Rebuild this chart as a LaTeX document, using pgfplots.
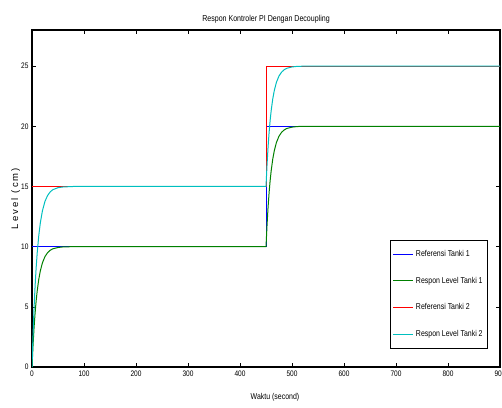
\documentclass[border=0pt]{standalone}
\usepackage{fontspec}
\setmainfont{Liberation Sans}[FakeStretch=0.82]
\newfontfamily\spacedfont{Liberation Sans}[LetterSpace=22]
\usepackage{pgfplots}
\pgfplotsset{compat=1.18}

\definecolor{mblue}{rgb}{0,0,1}
\definecolor{mgreen}{rgb}{0,0.5,0}
\definecolor{mred}{rgb}{1,0,0}
\definecolor{mcyan}{rgb}{0,0.75,0.75}

\begin{document}
\begin{tikzpicture}[font=\fontsize{8.6}{9}\selectfont]
\begin{axis}[
    scale only axis,
    width=468pt, height=337pt,
    xmin=0, xmax=900, ymin=0, ymax=28,
    xtick={0,100,...,900}, ytick={0,5,...,25},
    tick align=inside,
    major tick length=4pt,
    axis line style={line width=1.2pt},
    tick style={black, line width=0.6pt},
    /pgf/number format/assume math mode=true,
    ticklabel style={font=\fontsize{8}{8}\selectfont},
    title={Respon Kontroler PI Dengan Decoupling},
    title style={yshift=-3pt},
    xlabel={Waktu (second)},
    ylabel={\fontsize{9.5}{10}\spacedfont Level (cm)},
    ylabel style={at={(axis description cs:-0.035,0.5)}, anchor=center},
    xlabel style={yshift=-10pt, xshift=9pt, font=\fontsize{8.5}{9}\selectfont},
    legend style={at={(0.974,0.056)}, anchor=south east,
        font=\fontsize{8.5}{9}\selectfont,
        row sep=15pt, inner xsep=3pt, inner ysep=8pt},
    legend cell align=left,
    legend image code/.code={\draw[#1, line width=1pt] (0pt,0pt) -- (20pt,0pt);},
    every axis plot/.append style={line width=1pt},
]
\addplot[mblue] coordinates {(0,10) (450,10) (450,20) (900,20)};
\addlegendentry{Referensi Tanki 1}
\addplot[mgreen] coordinates {
(0,0) (2,1.81) (4,3.30) (6,4.51) (8,5.51) (10,6.32) (13,7.28) (16,7.98)
(20,8.65) (25,9.18) (30,9.50) (35,9.70) (40,9.82) (50,9.93) (60,9.98) (80,10)
(450,10) (452,11.81) (454,13.30) (456,14.51) (458,15.51) (460,16.32) (463,17.28)
(466,17.98) (470,18.65) (475,19.18) (480,19.50) (485,19.70) (490,19.82)
(500,19.93) (510,19.98) (530,20) (900,20)};
\addlegendentry{Respon Level Tanki 1}
\addplot[mred] coordinates {(0,15) (450,15) (450,25) (900,25)};
\addlegendentry{Referensi Tanki 2}
\addplot[mcyan] coordinates {
(0,0) (2,2.72) (4,4.95) (6,6.77) (8,8.26) (10,9.48) (13,10.91) (16,11.97)
(20,12.97) (25,13.77) (30,14.25) (35,14.55) (40,14.73) (50,14.90) (60,14.96) (80,15)
(450,15) (452,16.81) (454,18.30) (456,19.51) (458,20.51) (460,21.32) (463,22.28)
(466,22.98) (470,23.65) (475,24.18) (480,24.50) (485,24.70) (490,24.82)
(500,24.93) (510,24.98) (530,25) (900,25)};
\addlegendentry{Respon Level Tanki 2}
\end{axis}
\pgfresetboundingbox
\path ([shift={(-32pt,-40pt)}]current axis.south west) rectangle ([shift={(2pt,30pt)}]current axis.north east);
\end{tikzpicture}
\end{document}
